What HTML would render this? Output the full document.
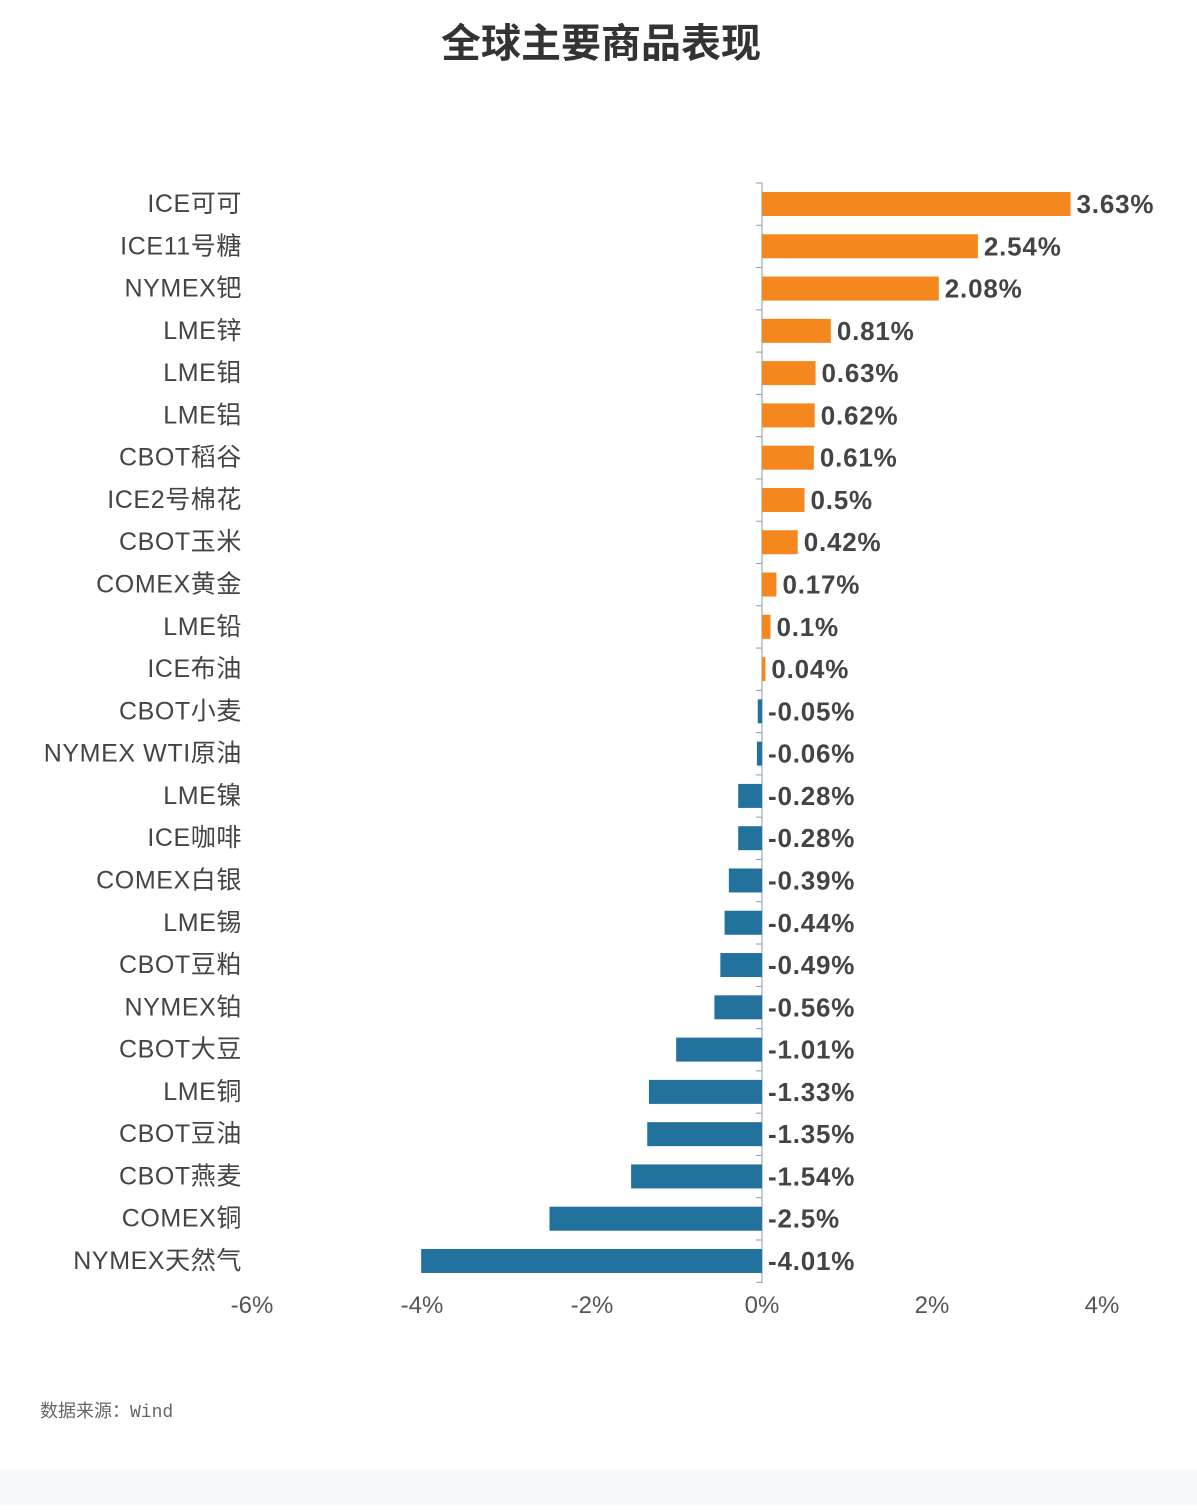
<!DOCTYPE html>
<html><head><meta charset="utf-8"><style>
body{margin:0;background:#fff;width:1197px;height:1505px;overflow:hidden;font-family:"Liberation Sans","Noto Sans CJK SC",sans-serif;}
</style></head><body>
<svg id="chart" width="1197" height="1505">
<rect x="0" y="1470" width="1197" height="35" fill="#f7f9fc"/>
<text x="601" y="57" text-anchor="middle" font-size="40" font-weight="bold" fill="#333">全球主要商品表现</text>
<text x="40" y="1417" font-size="18" fill="#666" font-family="'Liberation Mono','Noto Sans CJK SC',monospace">数据来源：Wind</text>
<g id="plot"></g>
</svg>
<script>
const categories=["ICE可可","ICE11号糖","NYMEX钯","LME锌","LME钼","LME铝","CBOT稻谷","ICE2号棉花","CBOT玉米","COMEX黄金","LME铅","ICE布油","CBOT小麦","NYMEX WTI原油","LME镍","ICE咖啡","COMEX白银","LME锡","CBOT豆粕","NYMEX铂","CBOT大豆","LME铜","CBOT豆油","CBOT燕麦","COMEX铜","NYMEX天然气"];
const values=[3.63,2.54,2.08,0.81,0.63,0.62,0.61,0.5,0.42,0.17,0.1,0.04,-0.05,-0.06,-0.28,-0.28,-0.39,-0.44,-0.49,-0.56,-1.01,-1.33,-1.35,-1.54,-2.5,-4.01];
const labels=["3.63%","2.54%","2.08%","0.81%","0.63%","0.62%","0.61%","0.5%","0.42%","0.17%","0.1%","0.04%","-0.05%","-0.06%","-0.28%","-0.28%","-0.39%","-0.44%","-0.49%","-0.56%","-1.01%","-1.33%","-1.35%","-1.54%","-2.5%","-4.01%"];
const ticks=[-6,-4,-2,0,2,4];
const tickLabels=["-6%","-4%","-2%","0%","2%","4%"];
const NS="http://www.w3.org/2000/svg";
const g=document.getElementById('plot');
const x=v=>762+v*85;
const y=i=>204+i*42.28;
function mk(t,a){const e=document.createElementNS(NS,t);for(const k in a)e.setAttribute(k,a[k]);g.appendChild(e);return e;}
const ax=mk('line',{x1:762,y1:183,x2:762,y2:1283,stroke:'#8a9ab0','stroke-width':1});


for(let i=0;i<=categories.length;i++){
 const t=mk('line',{x1:756,x2:762,y1:y(i)-21,y2:y(i)-21,stroke:'#8a9ab0'});
 
 
}
categories.forEach((c,i)=>{
 const v=values[i];
 const b=mk('rect',{x:Math.min(x(0),x(v)),y:y(i)-12,width:Math.abs(x(v)-x(0)),height:24,fill:v>=0?'#f5871f':'#23729e'});
 
 
 const l=mk('text',{x:242,y:y(i)+8,'text-anchor':'end','font-size':25,'letter-spacing':'0.6',fill:'#444'});
 l.textContent=c;
 
 
 const vl=mk('text',{x:(v>=0?x(v):x(0))+6,y:y(i)+9,'font-size':26,'font-weight':'bold','letter-spacing':'0.8',fill:'#444'});
 vl.textContent=labels[i];
 
 
});
ticks.forEach((t,i)=>{
 const e=mk('text',{x:x(t),y:1313,'text-anchor':'middle','font-size':24,fill:'#555'});
 e.textContent=tickLabels[i];
 
 
});
</script>
</body></html>
